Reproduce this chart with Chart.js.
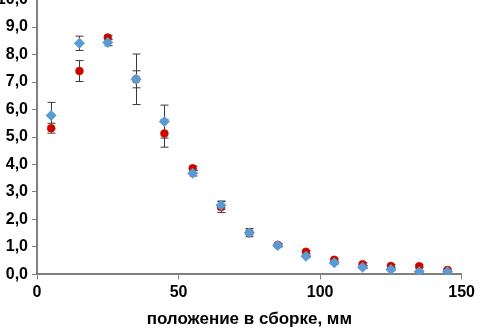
<!DOCTYPE html>
<html>
<head>
<meta charset="utf-8">
<script src="https://cdn.jsdelivr.net/npm/chart.js@4"></script>
<style>
  html, body { margin: 0; padding: 0; background: #fff; overflow: hidden; }
  #wrap { position: absolute; left: 0; top: -14px; width: 479px; height: 348px; }
</style>
</head>
<body>
<div id="wrap"><canvas id="myChart"></canvas></div>
<script>
// position along the assembly, mm
const positions = [5, 15, 25, 35, 45, 55, 65, 75, 85, 95, 105, 115, 125, 135, 145];
const blueValues = [5.78, 8.41, 8.44, 7.10, 5.56, 3.68, 2.52, 1.52, 1.05, 0.66, 0.42, 0.26, 0.18, 0.10, 0.10];
const blueErrors = [0.48, 0.26, 0.12, 0.92, 0.60, 0.10, 0.15, 0.15, 0.05, 0.05, 0.05, 0.05, 0.05, 0.05, 0.05];
const redValues = [5.32, 7.40, 8.62, 7.10, 5.13, 3.86, 2.45, 1.52, 1.07, 0.82, 0.53, 0.37, 0.31, 0.30, 0.16];
const redErrors = [0.18, 0.38, 0.08, 0.31, 0.50, 0.08, 0.20, 0.05, 0.05, 0.05, 0.05, 0.05, 0.05, 0.05, 0.05];
const xTicks = [0, 50, 100, 150];
const yTicks = [0, 1, 2, 3, 4, 5, 6, 7, 8, 9, 10];
const xTitle = 'положение в сборке, мм';

const axisGrey = '#7f7f7f';
const tickFont = { family: 'Liberation Sans', size: 16, weight: 'bold' };

function toPoints(vals, errs) {
    return vals.map((v, i) => ({ x: positions[i], y: v, err: errs[i] }));
}

// error bars drawn under the markers
const errorBars = {
    id: 'errorBars',
    beforeDatasetsDraw(chart) {
        const ctx = chart.ctx;
        const xs = chart.scales.x;
        const ys = chart.scales.y;
        ctx.save();
        ctx.strokeStyle = '#3a3a3a';
        ctx.lineWidth = 1;
        chart.data.datasets.forEach(ds => {
            ds.data.forEach(p => {
                const px = Math.round(xs.getPixelForValue(p.x)) + 0.5;
                const top = ys.getPixelForValue(p.y + p.err);
                const bot = ys.getPixelForValue(p.y - p.err);
                ctx.beginPath();
                ctx.moveTo(px, top);
                ctx.lineTo(px, bot);
                ctx.moveTo(px - 4, top);
                ctx.lineTo(px + 4, top);
                ctx.moveTo(px - 4, bot);
                ctx.lineTo(px + 4, bot);
                ctx.stroke();
            });
        });
        ctx.restore();
    }
};

const ctx = document.getElementById('myChart').getContext('2d');
const chart = new Chart(ctx, {
    type: 'scatter',
    data: {
        datasets: [{
            label: 'blue',
            data: toPoints(blueValues, blueErrors),
            pointStyle: 'rectRot',
            pointRadius: 5.5,
            backgroundColor: '#5b9bd5',
            borderColor: '#5b9bd5',
            borderWidth: 0
        }, {
            label: 'red',
            data: toPoints(redValues, redErrors),
            pointStyle: 'circle',
            pointRadius: 4,
            backgroundColor: '#d00000',
            borderColor: '#b33a00',
            borderWidth: 0.5
        }]
    },
    options: {
        animation: false,
        responsive: true,
        maintainAspectRatio: false,
        layout: { padding: { right: 1 } },
        plugins: { legend: { display: false }, tooltip: { enabled: false } },
        scales: {
            x: {
                type: 'linear',
                min: 0,
                max: 150,
                afterBuildTicks: s => { s.ticks = xTicks.map(v => ({ value: v })); },
                ticks: { color: '#000', font: tickFont, padding: 4, maxRotation: 0 },
                grid: { drawOnChartArea: false, color: axisGrey, tickLength: 5, lineWidth: 1 },
                border: { color: axisGrey, width: 2 },
                title: { display: true, text: xTitle, color: '#000', font: { family: 'Liberation Sans', size: 17, weight: 'bold' }, padding: { top: 3 } }
            },
            y: {
                min: 0,
                max: 10,
                afterBuildTicks: s => { s.ticks = yTicks.map(v => ({ value: v })); },
                afterFit: s => { s.width = 37; },
                ticks: {
                    color: '#000', font: tickFont, padding: 4,
                    callback: v => v.toFixed(1).replace('.', ',')
                },
                grid: { drawOnChartArea: false, color: axisGrey, tickLength: 5, lineWidth: 1 },
                border: { color: axisGrey, width: 2 }
            }
        }
    },
    plugins: [errorBars]
});
</script>
</body>
</html>
